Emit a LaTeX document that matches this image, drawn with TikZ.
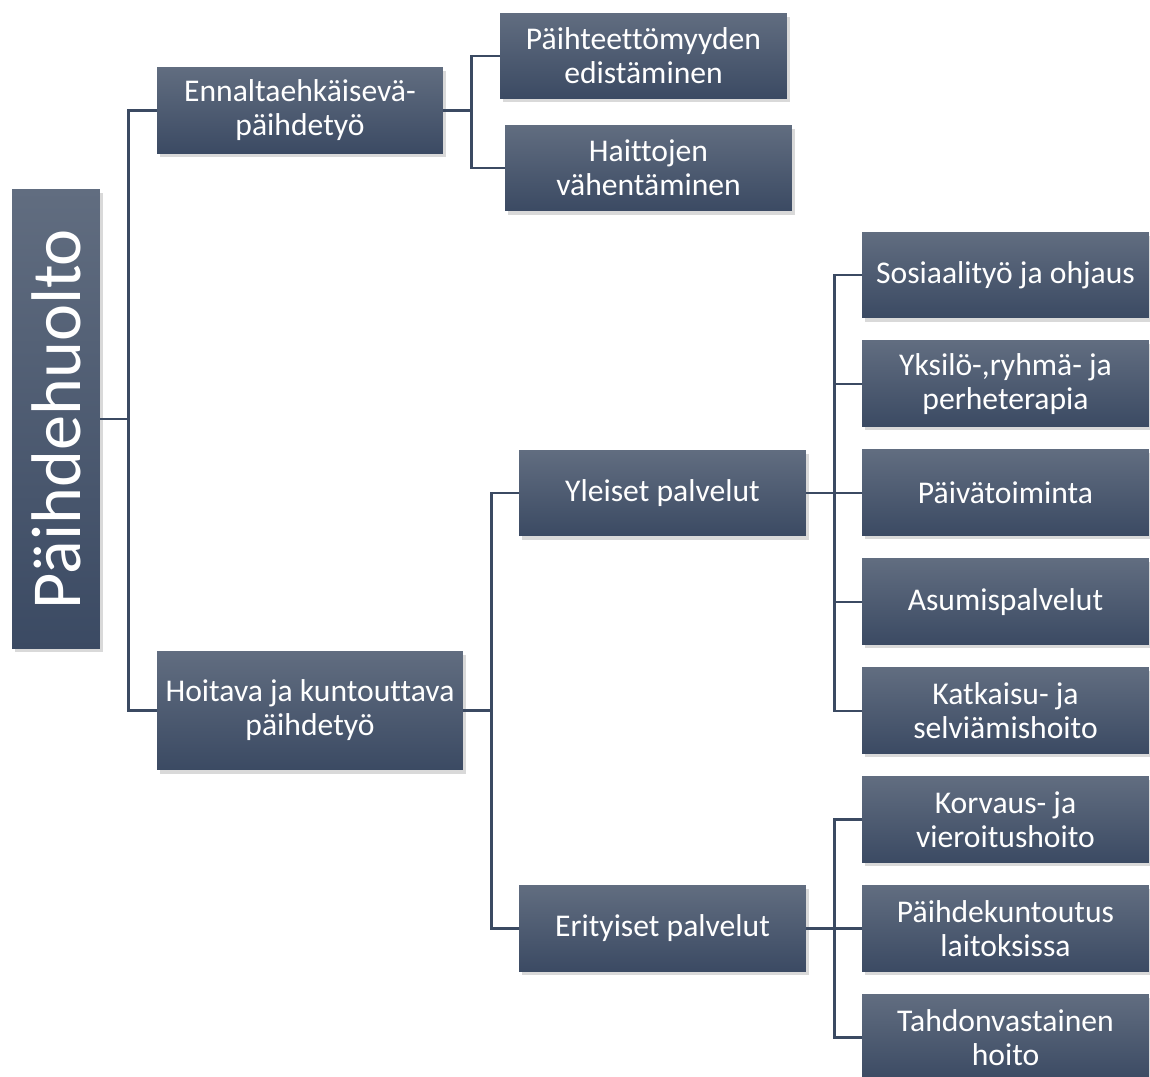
\documentclass[tikz,border=0pt]{standalone}
\usepackage{fontspec}
\setmainfont{Carlito}[Ligatures=NoCommon]
\usetikzlibrary{shadows}
\definecolor{boxtop}{HTML}{616D80}
\definecolor{boxbot}{HTML}{3B4A63}
\definecolor{linecol}{HTML}{3B4A62}

\begin{document}
\begin{tikzpicture}[x=0.02cm, y=-0.02cm, node distance=2.18cm]
			\tikzstyle{box} = [top color=boxtop, bottom color=boxbot, text=white, align=center, minimum width=5.74cm, minimum height=1.72cm, inner sep=2pt, font=\fontsize{18}{19.3}\selectfont, drop shadow={shadow xshift=1.5pt, shadow yshift=-2pt, opacity=0.3}]
			\tikzstyle{link} = [draw=linecol, line width=1.6pt]
			\tikzstyle{elbow} = [to path={-- ++(28,0) |- (\tikztotarget)}]

			\useasboundingbox (0,0) rectangle (1150,1077);

			% root and first level
			\node[box, minimum width=1.76cm, minimum height=9.2cm, font=\fontsize{40}{44}\selectfont] (root) at (56,419) {\rotatebox{90}{Päihdehuolto}};
			\node[box, minimum width=5.72cm, minimum height=1.74cm] (enn) at (300,110.5) {Ennaltaehkäisevä-\\päihdetyö};
			\node[box, minimum width=6.12cm, minimum height=2.38cm] (hoito) at (310,710.5) {Hoitava ja kuntouttava\\päihdetyö};

			% second level
			\node[box] (edist) at (643.5,56) {Päihteettömyyden\\edistäminen};
			\node[box] (haitta) at (648.5,168) {Haittojen\\vähentäminen};
			\node[box] (yleis) at (662.5,493) {Yleiset palvelut};
			\node[box] (erit) at (662.5,928.5) {Erityiset palvelut};

			% services
			\node[box] (sos) at (1005.5,275) {Sosiaalityö ja ohjaus};
			\node[box, below of=sos] (yks) {Yksilö-,ryhmä- ja\\perheterapia};
			\node[box, below of=yks] (paiva) {Päivätoiminta};
			\node[box, below of=paiva] (asum) {Asumispalvelut};
			\node[box, below of=asum] (katk) {Katkaisu- ja\\selviämishoito};
			\node[box, below of=katk] (korv) {Korvaus- ja\\vieroitushoito};
			\node[box, below of=korv] (kunt) {Päihdekuntoutus\\laitoksissa};
			\node[box, below of=kunt] (tahd) {Tahdonvastainen\\hoito};

			\path[link]
			(root.east) edge[elbow] (enn.west)
			(root.east) edge[elbow] (hoito.west)

			(enn.east) edge[elbow] (edist.west)
			(enn.east) edge[elbow] (haitta.west)

			(hoito.east) edge[elbow] (yleis.west)
			(hoito.east) edge[elbow] (erit.west)

			(yleis.east) edge[elbow] (sos.west)
			(yleis.east) edge[elbow] (yks.west)
			(yleis.east) edge[elbow] (paiva.west)
			(yleis.east) edge[elbow] (asum.west)
			(yleis.east) edge[elbow] (katk.west)

			(erit.east) edge[elbow] (korv.west)
			(erit.east) edge[elbow] (kunt.west)
			(erit.east) edge[elbow] (tahd.west)
			;

			\end{tikzpicture}
\end{document}
